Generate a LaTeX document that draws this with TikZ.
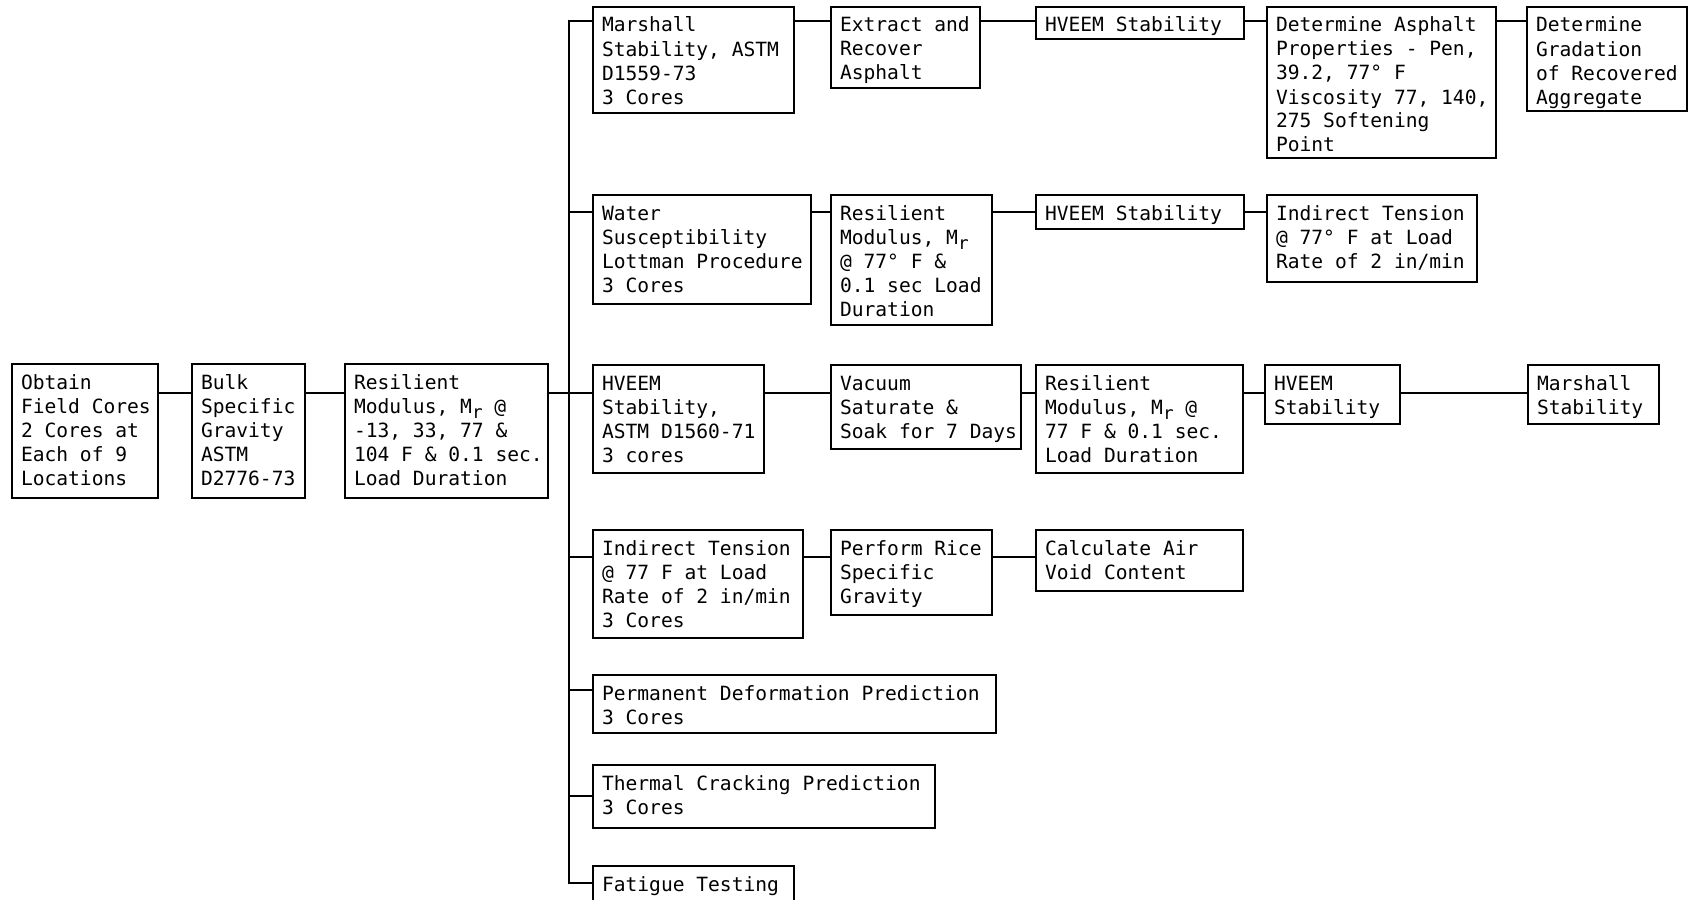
\documentclass[tikz,border=0pt]{standalone}
\usepackage{fontspec}
\setmonofont{DejaVu Sans Mono}
\newcommand\Mr{M\raisebox{-0.28em}{\fontsize{8.8}{10}\selectfont r}}
\tikzset{
  boxst/.style={draw=black, line width=1pt, rectangle, inner sep=0pt, outer sep=0pt, anchor=north west},
  txtst/.style={inner sep=0pt, outer sep=0pt, anchor=north west, align=left,
    font=\ttfamily\fontsize{9.8}{12}\selectfont, text=black},
  conn/.style={draw=black, line width=1.4pt},
}
\newcommand\mkbox[6]{%
  \node[boxst, minimum width=#4*0.5pt, minimum height=#5*0.5pt] (#1) at (#2,#3) {};
  \node[txtst] (#1t) at ([shift={(9,10)}]#1.north west) {\vphantom{Ml}#6};
}
\begin{document}
\begin{tikzpicture}[x=0.5pt,y=-0.5pt]
\useasboundingbox (0,0) rectangle (1688,900);
\fill[white] (0,0) rectangle (1688,900);
\clip (0,0) rectangle (1688,900);

% left chain
\mkbox{obtain}{12}{364}{146}{134}{Obtain\\Field Cores\\2 Cores at\\Each of 9\\Locations}
\mkbox{bulk}{192}{364}{113}{134}{Bulk\\Specific\\Gravity\\ASTM\\D2776-73}
\mkbox{resa}{345}{364}{203}{134}{Resilient\\Modulus, \Mr{} @\\-13, 33, 77 \&\\104 F \& 0.1 sec.\\Load Duration}

% row 1
\mkbox{marsh}{593}{7}{201}{106}{Marshall\\Stability, ASTM\\D1559-73\\3 Cores}
\mkbox{extract}{831}{7}{149}{81}{Extract and\\Recover\\Asphalt}
\mkbox{hva}{1036}{7}{208}{32}{HVEEM Stability}
\mkbox{detasph}{1267}{7}{229}{151}{Determine Asphalt\\Properties - Pen,\\39.2, 77° F\\Viscosity 77, 140,\\275 Softening\\Point}
\mkbox{detgrad}{1527}{7}{160}{104}{Determine\\Gradation\\of Recovered\\Aggregate}

% row 2
\mkbox{water}{593}{195}{218}{109}{Water\\Susceptibility\\Lottman Procedure\\3 Cores}
\mkbox{resb}{831}{195}{161}{130}{Resilient\\Modulus, \Mr\\@ 77° F \&\\0.1 sec Load\\Duration}
\mkbox{hvb}{1036}{195}{208}{34}{HVEEM Stability}
\mkbox{inda}{1267}{195}{210}{87}{Indirect Tension\\@ 77° F at Load\\Rate of 2 in/min}

% row 3
\mkbox{hvc}{593}{365}{171}{108}{HVEEM\\Stability,\\ASTM D1560-71\\3 cores}
\mkbox{vacuum}{831}{365}{190}{84}{Vacuum\\Saturate \&\\Soak for 7 Days}
\mkbox{resc}{1036}{365}{207}{108}{Resilient\\Modulus, \Mr{} @\\77 F \& 0.1 sec.\\Load Duration}
\mkbox{hvd}{1265}{365}{135}{59}{HVEEM\\Stability}
\mkbox{marshb}{1528}{365}{131}{59}{Marshall\\Stability}

% row 4
\mkbox{indb}{593}{530}{210}{108}{Indirect Tension\\@ 77 F at Load\\Rate of 2 in/min\\3 Cores}
\mkbox{rice}{831}{530}{161}{85}{Perform Rice\\Specific\\Gravity}
\mkbox{calc}{1036}{530}{207}{61}{Calculate Air\\Void Content}

% lower rows
\mkbox{perm}{593}{675}{403}{58}{Permanent Deformation Prediction\\3 Cores}
\mkbox{therm}{593}{765}{342}{63}{Thermal Cracking Prediction\\3 Cores}
\mkbox{fatigue}{593}{866}{201}{60}{Fatigue Testing}

% bus
\coordinate (bustop) at (569,21);
\coordinate (busbot) at (569,883);
\draw[conn] (marsh.west |- bustop) -- (bustop) -- (busbot) -- (fatigue.west |- busbot);
\draw[conn] (bustop |- 0,212) -- (water.west |- 0,212);
\draw[conn] (bustop |- 0,557) -- (indb.west |- 0,557);
\draw[conn] (bustop |- 0,690) -- (perm.west |- 0,690);
\draw[conn] (bustop |- 0,796) -- (therm.west |- 0,796);

% left chain connectors
\draw[conn] (obtain.east |- 0,393) -- (bulk.west |- 0,393);
\draw[conn] (bulk.east |- 0,393) -- (resa.west |- 0,393);
\draw[conn] (resa.east |- 0,393) -- (hvc.west |- 0,393);

% row 1 connectors
\draw[conn] (marsh.east |- 0,21) -- (extract.west |- 0,21);
\draw[conn] (extract.east |- 0,21) -- (hva.west |- 0,21);
\draw[conn] (hva.east |- 0,21) -- (detasph.west |- 0,21);
\draw[conn] (detasph.east |- 0,21) -- (detgrad.west |- 0,21);

% row 2 connectors
\draw[conn] (water.east |- 0,212) -- (resb.west |- 0,212);
\draw[conn] (resb.east |- 0,212) -- (hvb.west |- 0,212);
\draw[conn] (hvb.east |- 0,212) -- (inda.west |- 0,212);

% row 3 connectors
\draw[conn] (hvc.east |- 0,393) -- (vacuum.west |- 0,393);
\draw[conn] (vacuum.east |- 0,393) -- (resc.west |- 0,393);
\draw[conn] (resc.east |- 0,393) -- (hvd.west |- 0,393);
\draw[conn] (hvd.east |- 0,393) -- (marshb.west |- 0,393);

% row 4 connectors
\draw[conn] (indb.east |- 0,557) -- (rice.west |- 0,557);
\draw[conn] (rice.east |- 0,557) -- (calc.west |- 0,557);
\end{tikzpicture}
\end{document}
